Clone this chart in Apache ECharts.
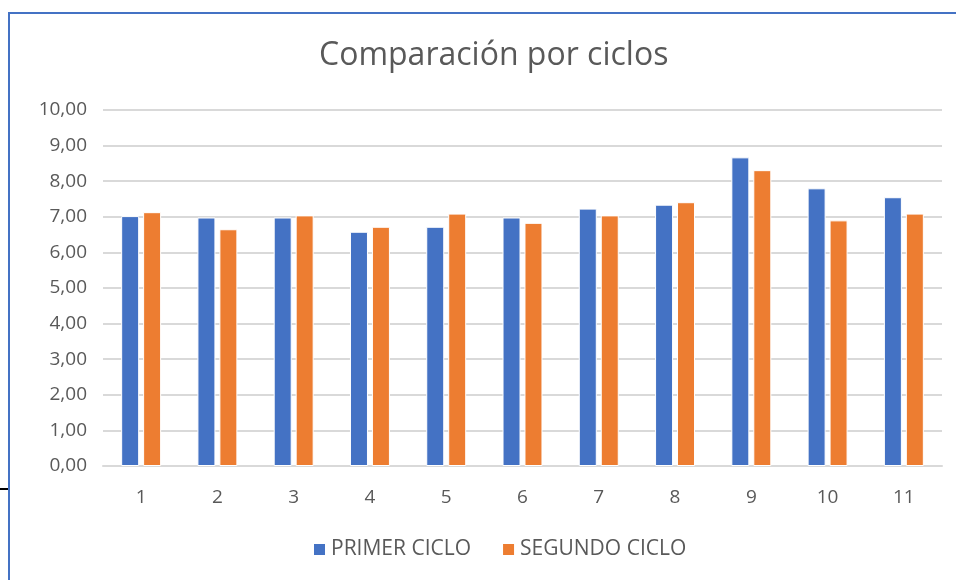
<!DOCTYPE html>
<html>
<head>
<meta charset="utf-8">
<script src="https://cdn.jsdelivr.net/npm/echarts@6/dist/echarts.min.js"></script>
<style>html,body{margin:0;padding:0;background:#fff;}#c{width:956px;height:580px;}</style>
</head>
<body>
<div id="c"></div>
<script>
const categories = ['1','2','3','4','5','6','7','8','9','10','11'];
const primerCiclo = [7.02, 6.98, 6.98, 6.58, 6.72, 6.98, 7.23, 7.34, 8.67, 7.80, 7.55];
const segundoCiclo = [7.13, 6.65, 7.04, 6.72, 7.09, 6.83, 7.04, 7.41, 8.31, 6.90, 7.09];
const seriesNames = ['PRIMER CICLO', 'SEGUNDO CICLO'];
const titleText = 'Comparación por ciclos';

const font = '"Open Sans", "Noto Sans", sans-serif';
const textColor = '#595959';
const chart = echarts.init(document.getElementById('c'), null, {renderer: 'canvas'});
chart.setOption({
  animation: false,
  backgroundColor: '#fff',
  title: {
    text: titleText, left: 314, top: 35,
    textStyle: {fontFamily: font, fontSize: 32, fontWeight: 'normal', color: textColor}
  },
  legend: {
    bottom: 15, left: 307,
    itemWidth: 13, itemHeight: 13, itemGap: 30,
    icon: 'rect',
    textStyle: {fontFamily: font, fontSize: 21, color: textColor},
    data: seriesNames
  },
  grid: {left: 103, right: 14, top: 110, bottom: 114},
  xAxis: {
    type: 'category', data: categories,
    axisLine: {lineStyle: {color: '#d9d9d9', width: 2}},
    axisTick: {show: false},
    axisLabel: {fontFamily: font, fontSize: 19, color: textColor, margin: 22}
  },
  yAxis: {
    type: 'value', min: 0, max: 10, interval: 1,
    axisLine: {show: false}, axisTick: {show: false},
    splitLine: {lineStyle: {color: '#d9d9d9', width: 2}},
    axisLabel: {fontFamily: font, fontSize: 19, color: textColor, margin: 16,
      formatter: v => v.toFixed(2).replace('.', ',')}
  },
  series: [
    {name: seriesNames[0], type: 'bar', data: primerCiclo, barWidth: 18, barGap: '22%',
     itemStyle: {color: '#4472C4', borderColor: '#ffffff', borderWidth: 1}},
    {name: seriesNames[1], type: 'bar', data: segundoCiclo, barWidth: 18,
     itemStyle: {color: '#ED7D31', borderColor: '#ffffff', borderWidth: 1}}
  ],
  graphic: [
    {type: 'line', shape: {x1: 9, y1: 13, x2: 956, y2: 13}, style: {stroke: '#4472C4', lineWidth: 2}},
    {type: 'line', shape: {x1: 9, y1: 12, x2: 9, y2: 580}, style: {stroke: '#4472C4', lineWidth: 2}},
    {type: 'line', shape: {x1: 0, y1: 489, x2: 8, y2: 489}, style: {stroke: '#000000', lineWidth: 2}}
  ]
});
</script>
</body>
</html>
